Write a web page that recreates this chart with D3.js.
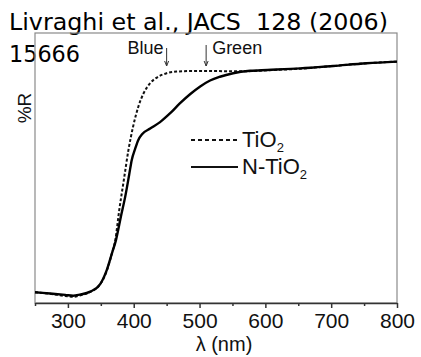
<!DOCTYPE html>
<html>
<head>
<meta charset="utf-8">
<script src="https://cdn.jsdelivr.net/npm/d3@7"></script>
<style>
  body { margin: 0; background: #fff; }
  svg { display: block; }
</style>
</head>
<body>
<svg width="421" height="357"></svg>
<script>
// reflectance spectra (arbitrary %R scale 0-100)
var wavelengthN = [250, 273, 296, 308, 318, 334, 349, 359, 367, 373, 381, 387, 393, 397, 402, 407, 413,
                   425, 440, 455, 470, 486, 501, 516, 531, 551, 577, 603, 653, 703, 754, 800];
var reflectN = [4.0, 3.5, 3.0, 2.7, 3.1, 4.2, 7.0, 12.2, 18.5, 23.3, 32.6, 39.3, 47.4, 53.0, 57.0, 60.4, 62.6,
                64.6, 67.0, 70.2, 73.9, 77.4, 80.2, 82.4, 83.8, 85.1, 86.0, 86.3, 86.9, 87.8, 88.8, 89.4];

var wavelengthT = [250, 273, 296, 308, 318, 334, 349, 359, 367, 372, 378, 385, 392, 399, 407, 415,
                   425, 437, 450, 465, 486, 516, 566, 603, 653, 703, 754, 800];
var reflectT = [4.0, 3.4, 2.6, 2.3, 2.8, 4.1, 6.9, 11.9, 18.5, 23.3, 34.4, 45.6, 56.7, 65.3, 72.7, 77.7,
                81.4, 83.8, 85.1, 85.7, 85.9, 85.9, 85.8, 86.2, 86.8, 87.8, 88.8, 89.4];

var majorTicks = [300, 400, 500, 600, 700, 800];
var minorTicks = [250, 350, 450, 550, 650, 750];

var markers = [{label: "Blue", nm: 450}, {label: "Green", nm: 510}];
var seriesNames = ["TiO", "N-TiO"];

var svg = d3.select("svg"),
    width = +svg.attr("width"),
    height = +svg.attr("height");

var plotLeft = 35, plotRight = 397, plotTop = 33, plotBottom = 303;

var x = d3.scaleLinear().domain([250, 800]).range([plotLeft, plotRight]);
var y = d3.scaleLinear().domain([0, 100]).range([plotBottom, plotTop]);

var labelFont = "'Liberation Sans', Arial, sans-serif";

// title
var title = svg.append("text")
    .attr("font-family", "'DejaVu Sans', sans-serif")
    .attr("font-size", 23)
    .attr("fill", "#000")
    .style("white-space", "pre");
title.append("tspan").attr("x", 9).attr("y", 30)
    .attr("textLength", 379)
    .attr("lengthAdjust", "spacingAndGlyphs")
    .text("Livraghi et al., JACS  128 (2006)");
title.append("tspan").attr("x", 9).attr("y", 62)
    .attr("textLength", 71)
    .attr("lengthAdjust", "spacingAndGlyphs")
    .text("15666");

// frame
svg.append("rect")
    .attr("x", plotLeft)
    .attr("y", plotTop)
    .attr("width", plotRight - plotLeft)
    .attr("height", plotBottom - plotTop)
    .attr("fill", "none")
    .attr("stroke", "#8a8a8a")
    .attr("stroke-width", 1.2);

// x axis
var xAxis = svg.append("g")
    .attr("transform", "translate(0," + plotBottom + ")")
    .call(d3.axisBottom(x).tickValues(majorTicks).tickSize(5).tickSizeOuter(0));
xAxis.select(".domain").attr("stroke", "#333").attr("stroke-width", 1.5);
xAxis.selectAll(".tick line").attr("stroke", "#333").attr("stroke-width", 1.5);
xAxis.selectAll(".tick text")
    .attr("y", 25)
    .attr("dy", 0)
    .attr("font-family", labelFont)
    .attr("font-size", 21)
    .attr("fill", "#111");

svg.append("g")
    .attr("transform", "translate(0," + plotBottom + ")")
    .call(d3.axisBottom(x).tickValues(minorTicks).tickSize(3).tickFormat(""))
    .call(function(g) { g.select(".domain").remove(); })
    .selectAll(".tick line").attr("stroke", "#333").attr("stroke-width", 1.5);

svg.append("text")
    .attr("x", (plotLeft + plotRight) / 2 + 8)
    .attr("y", 351)
    .attr("text-anchor", "middle")
    .attr("font-family", labelFont)
    .attr("font-size", 20)
    .attr("fill", "#111")
    .text("λ (nm)");

svg.append("text")
    .attr("transform", "translate(31,108) rotate(-90)")
    .attr("text-anchor", "middle")
    .attr("font-family", labelFont)
    .attr("font-size", 19)
    .attr("fill", "#111")
    .text("%R");

// curves
var line = d3.line()
    .x(function(d) { return x(d[0]); })
    .y(function(d) { return y(d[1]); })
    .curve(d3.curveMonotoneX);

svg.append("path")
    .datum(d3.zip(wavelengthT, reflectT))
    .attr("fill", "none")
    .attr("stroke", "#111")
    .attr("stroke-width", 2)
    .attr("stroke-dasharray", "3,2")
    .attr("d", line);

svg.append("path")
    .datum(d3.zip(wavelengthN, reflectN))
    .attr("fill", "none")
    .attr("stroke", "#000")
    .attr("stroke-width", 2.4)
    .attr("d", line);

// Blue / Green arrows
var mk = svg.append("g").selectAll("g")
    .data(markers)
    .enter().append("g");

mk.append("line")
    .attr("x1", function(d) { return x(d.nm); })
    .attr("x2", function(d) { return x(d.nm); })
    .attr("y1", function(d, i) { return i === 0 ? 48 : 45; })
    .attr("y2", 66)
    .attr("stroke", "#333")
    .attr("stroke-width", 1);

mk.append("path")
    .attr("d", function(d) {
      var cx = x(d.nm);
      return "M" + (cx - 2) + ",61L" + cx + ",66L" + (cx + 2) + ",61";
    })
    .attr("fill", "none")
    .attr("stroke", "#333")
    .attr("stroke-width", 1);

mk.append("text")
    .attr("x", function(d, i) { return i === 0 ? x(d.nm) - 3 : x(d.nm) + 6; })
    .attr("y", 54)
    .attr("text-anchor", function(d, i) { return i === 0 ? "end" : "start"; })
    .attr("font-family", labelFont)
    .attr("font-size", 18)
    .attr("fill", "#111")
    .text(function(d) { return d.label; });

// legend
var legend = svg.append("g").selectAll("g")
    .data(seriesNames)
    .enter().append("g")
      .attr("transform", function(d, i) { return "translate(191," + (140 + i * 27) + ")"; });

legend.append("line")
    .attr("x1", 0)
    .attr("x2", 47)
    .attr("stroke", "#111")
    .attr("stroke-width", function(d, i) { return i === 0 ? 2 : 2.2; })
    .attr("stroke-dasharray", function(d, i) { return i === 0 ? "4,3" : null; });

var lt = legend.append("text")
    .attr("x", 51)
    .attr("y", 7)
    .attr("font-family", labelFont)
    .attr("font-size", 22)
    .attr("fill", "#111");
lt.append("tspan").text(function(d) { return d; });
lt.append("tspan")
    .attr("dy", 5)
    .attr("font-size", 13)
    .text("2");
</script>
</body>
</html>
